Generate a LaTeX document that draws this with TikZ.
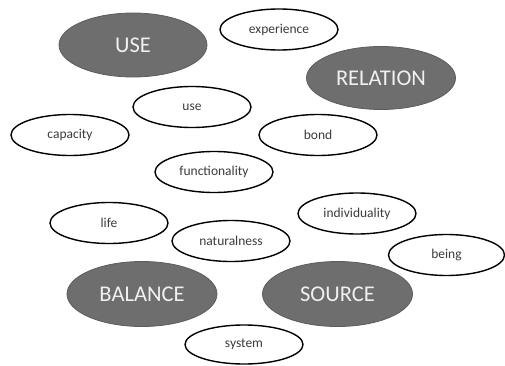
\documentclass[tikz,border=0pt]{standalone}
\usepackage{fontspec}
\setmainfont{Carlito}
\usetikzlibrary{shapes.geometric}
\definecolor{bigfill}{HTML}{6E6E6E}
\definecolor{bigline}{HTML}{5C5C5C}
\definecolor{smalltext}{HTML}{3C3C3C}
\tikzset{
  bigell/.style={ellipse, fill=bigfill, draw=bigline, line width=0.8pt, inner sep=0pt,
    text=white!94!black, font=\fontsize{22.5}{24}\selectfont},
  smallell/.style={ellipse, fill=white, draw=black, line width=1.4pt, inner sep=0pt,
    text=smalltext, font=\fontsize{13.5}{15}\selectfont,
    minimum width=118pt, minimum height=41pt}
}
\begin{document}
\begin{tikzpicture}[x=1pt,y=1pt]
\useasboundingbox (0,0) rectangle (505,365);
% big ellipses (y = 365 - pixel y)
\node[bigell, minimum width=148pt, minimum height=64pt] (use) at (133,320) {USE};
\node[bigell, minimum width=149pt, minimum height=63pt] (relation) at (381,287) {RELATION};
\node[bigell, minimum width=150pt, minimum height=65pt] (balance) at (142,71) {BALANCE};
\node[bigell, minimum width=150pt, minimum height=65pt] (source) at (337.5,71) {SOURCE};
% small ellipses
\node[smallell] (experience) at (279,335.5) {experience};
\node[smallell] (usesmall) at (192,258) {use};
\node[smallell] (capacity) at (70,230) {capacity};
\node[smallell] (bond) at (318,230) {bond};
\node[smallell] (functionality) at (214,193) {functionality};
\node[smallell] (life) at (109,142) {life};
\node[smallell] (naturalness) at (231,124) {naturalness};
\node[smallell] (individuality) at (357,151.5) {individuality};
\node[smallell, minimum width=116pt] (being) at (446.5,110) {being};
\node[smallell, minimum height=39pt] (system) at (244,20.5) {system};
\end{tikzpicture}
\end{document}
